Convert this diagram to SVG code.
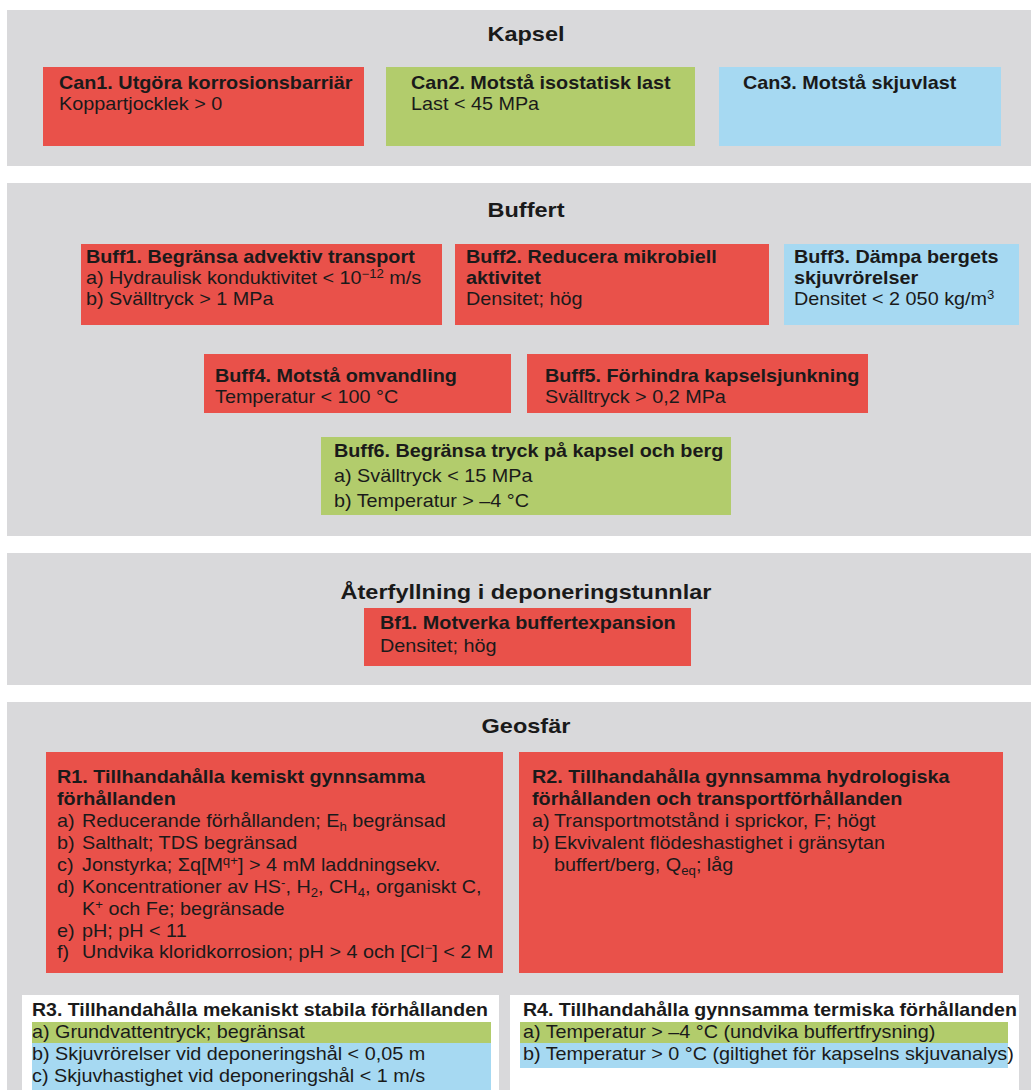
<svg xmlns="http://www.w3.org/2000/svg" width="1031" height="1090" viewBox="0 0 1031 1090">
<style>
.panel{fill:#d9d9db}
.red{fill:#e9514a}
.green{fill:#b2cc6c}
.blue{fill:#a6d9f2}
.white{fill:#ffffff}
text{font-family:"Liberation Sans",Arial,sans-serif;fill:#1a1a1a;font-size:18px}
.b{font-weight:bold}
.h{font-size:21px;font-weight:bold;text-anchor:middle}
.s{font-size:12px}
</style>
<rect x="0" y="0" width="1031" height="1090" fill="#ffffff"/>

<g id="sec-kapsel">
<rect class="panel" x="7" y="10" width="1024" height="156"/>
<text class="h" transform="scale(1.12 1)" x="469.64" y="41">Kapsel</text>
</g>
<g id="can1">
<rect class="red" x="43" y="67" width="321" height="79"/>
<text transform="scale(1.1 1)"><tspan class="b" x="53.64" y="89">Can1. Utgöra korrosionsbarriär</tspan><tspan x="53.64" y="110">Koppartjocklek &gt; 0</tspan></text>
</g>
<g id="can2">
<rect class="green" x="386" y="67" width="309" height="79"/>
<text transform="scale(1.1 1)"><tspan class="b" x="373.64" y="89">Can2. Motstå isostatisk last</tspan><tspan x="373.64" y="110">Last &lt; 45 MPa</tspan></text>
</g>
<g id="can3">
<rect class="blue" x="719" y="67" width="282" height="79"/>
<text class="b" transform="scale(1.1 1)" x="675.45" y="89">Can3. Motstå skjuvlast</text>
</g>

<g id="sec-buffert">
<rect class="panel" x="7" y="183" width="1024" height="353"/>
<text class="h" transform="scale(1.12 1)" x="469.64" y="217">Buffert</text>
</g>
<g id="buff1">
<rect class="red" x="81" y="244" width="361" height="81"/>
<text transform="scale(1.1 1)"><tspan class="b" x="78.18" y="263">Buff1. Begränsa advektiv transport</tspan><tspan x="78.18" y="284">a) Hydraulisk konduktivitet &lt; 10</tspan><tspan class="s" dy="-6">−12</tspan><tspan dy="6"> m/s</tspan><tspan x="78.18" y="305">b) Svälltryck &gt; 1 MPa</tspan></text>
</g>
<g id="buff2">
<rect class="red" x="455" y="244" width="314" height="81"/>
<text transform="scale(1.1 1)"><tspan class="b" x="423.64" y="263">Buff2. Reducera mikrobiell</tspan><tspan class="b" x="423.64" y="284">aktivitet</tspan><tspan x="423.64" y="305">Densitet; hög</tspan></text>
</g>
<g id="buff3">
<rect class="blue" x="784" y="244" width="235" height="81"/>
<text transform="scale(1.1 1)"><tspan class="b" x="721.82" y="263">Buff3. Dämpa bergets</tspan><tspan class="b" x="721.82" y="284">skjuvrörelser</tspan><tspan x="721.82" y="305">Densitet &lt; 2 050 kg/m</tspan><tspan class="s" dy="-6">3</tspan></text>
</g>
<g id="buff4">
<rect class="red" x="204" y="354" width="307" height="59"/>
<text transform="scale(1.1 1)"><tspan class="b" x="195.45" y="382">Buff4. Motstå omvandling</tspan><tspan x="195.45" y="403">Temperatur &lt; 100 °C</tspan></text>
</g>
<g id="buff5">
<rect class="red" x="527" y="354" width="341" height="59"/>
<text transform="scale(1.1 1)"><tspan class="b" x="495.45" y="382">Buff5. Förhindra kapselsjunkning</tspan><tspan x="495.45" y="403">Svälltryck &gt; 0,2 MPa</tspan></text>
</g>
<g id="buff6">
<rect class="green" x="321" y="437" width="410" height="78"/>
<text transform="scale(1.1 1)"><tspan class="b" x="303.64" y="457">Buff6. Begränsa tryck på kapsel och berg</tspan><tspan x="303.64" y="482">a) Svälltryck &lt; 15 MPa</tspan><tspan x="303.64" y="507">b) Temperatur &gt; –4 °C</tspan></text>
</g>

<g id="sec-aterfyllning">
<rect class="panel" x="7" y="553" width="1024" height="132"/>
<text class="h" transform="scale(1.12 1)" x="469.64" y="599">Återfyllning i deponeringstunnlar</text>
</g>
<g id="bf1">
<rect class="red" x="364" y="608" width="327" height="58"/>
<text transform="scale(1.1 1)"><tspan class="b" x="345.45" y="629">Bf1. Motverka buffertexpansion</tspan><tspan x="345.45" y="652">Densitet; hög</tspan></text>
</g>

<g id="sec-geosfar">
<rect class="panel" x="7" y="702" width="1024" height="388"/>
<text class="h" transform="scale(1.12 1)" x="469.64" y="733">Geosfär</text>
</g>
<g id="r1">
<rect class="red" x="46" y="752" width="457" height="221"/>
<text transform="scale(1.1 1)">
<tspan class="b" x="51.82" y="783">R1. Tillhandahålla kemiskt gynnsamma</tspan>
<tspan class="b" x="51.82" y="805">förhållanden</tspan>
<tspan x="51.82" y="827">a)</tspan><tspan x="74.55" y="827">Reducerande förhållanden; E</tspan><tspan class="s" dy="4">h</tspan><tspan dy="-4"> begränsad</tspan>
<tspan x="51.82" y="849">b)</tspan><tspan x="74.55" y="849">Salthalt; TDS begränsad</tspan>
<tspan x="51.82" y="871">c)</tspan><tspan x="74.55" y="871">Jonstyrka; Σq[M</tspan><tspan class="s" dy="-6">q+</tspan><tspan dy="6">] &gt; 4 mM laddningsekv.</tspan>
<tspan x="51.82" y="893">d)</tspan><tspan x="74.55" y="893">Koncentrationer av HS</tspan><tspan class="s" dy="-6">-</tspan><tspan dy="6">, H</tspan><tspan class="s" dy="4">2</tspan><tspan dy="-4">, CH</tspan><tspan class="s" dy="4">4</tspan><tspan dy="-4">, organiskt C,</tspan>
<tspan x="74.55" y="915">K</tspan><tspan class="s" dy="-6">+</tspan><tspan dy="6"> och Fe; begränsade</tspan>
<tspan x="51.82" y="937">e)</tspan><tspan x="74.55" y="937">pH; pH &lt; 11</tspan>
<tspan x="51.82" y="958">f)</tspan><tspan x="74.55" y="958">Undvika kloridkorrosion; pH &gt; 4 och [Cl</tspan><tspan class="s" dy="-6">−</tspan><tspan dy="6">] &lt; 2 M</tspan>
</text>
</g>
<g id="r2">
<rect class="red" x="519" y="752" width="484" height="221"/>
<text transform="scale(1.1 1)">
<tspan class="b" x="483.64" y="783">R2. Tillhandahålla gynnsamma hydrologiska</tspan>
<tspan class="b" x="483.64" y="805">förhållanden och transportförhållanden</tspan>
<tspan x="483.64" y="827">a)</tspan><tspan x="503.64" y="827">Transportmotstånd i sprickor, F; högt</tspan>
<tspan x="483.64" y="849">b)</tspan><tspan x="503.64" y="849">Ekvivalent flödeshastighet i gränsytan</tspan>
<tspan x="503.64" y="871">buffert/berg, Q</tspan><tspan class="s" dy="4">eq</tspan><tspan dy="-4">; låg</tspan>
</text>
</g>
<g id="r3">
<rect class="white" x="22" y="995" width="477" height="95"/>
<rect class="green" x="32" y="1022" width="459" height="21"/>
<rect class="blue" x="32" y="1043" width="459" height="47"/>
<text transform="scale(1.1 1)"><tspan class="b" x="29.09" y="1016" textLength="414.5" lengthAdjust="spacingAndGlyphs">R3. Tillhandahålla mekaniskt stabila förhållanden</tspan><tspan x="29.09" y="1038">a) Grundvattentryck; begränsat</tspan><tspan x="29.09" y="1060">b) Skjuvrörelser vid deponeringshål &lt; 0,05 m</tspan><tspan x="29.09" y="1082">c) Skjuvhastighet vid deponeringshål &lt; 1 m/s</tspan></text>
</g>
<g id="r4">
<rect class="white" x="510" y="995" width="509" height="95"/>
<rect class="green" x="520" y="1022" width="488" height="21"/>
<rect class="blue" x="520" y="1043" width="488" height="25"/>
<text transform="scale(1.1 1)"><tspan class="b" x="475.45" y="1016" textLength="449" lengthAdjust="spacingAndGlyphs">R4. Tillhandahålla gynnsamma termiska förhållanden</tspan><tspan x="475.45" y="1038">a) Temperatur &gt; –4 °C (undvika buffertfrysning)</tspan><tspan x="475.45" y="1060">b) Temperatur &gt; 0 °C (giltighet för kapselns skjuvanalys)</tspan></text>
</g>
<g id="connectors"></g>
</svg>
